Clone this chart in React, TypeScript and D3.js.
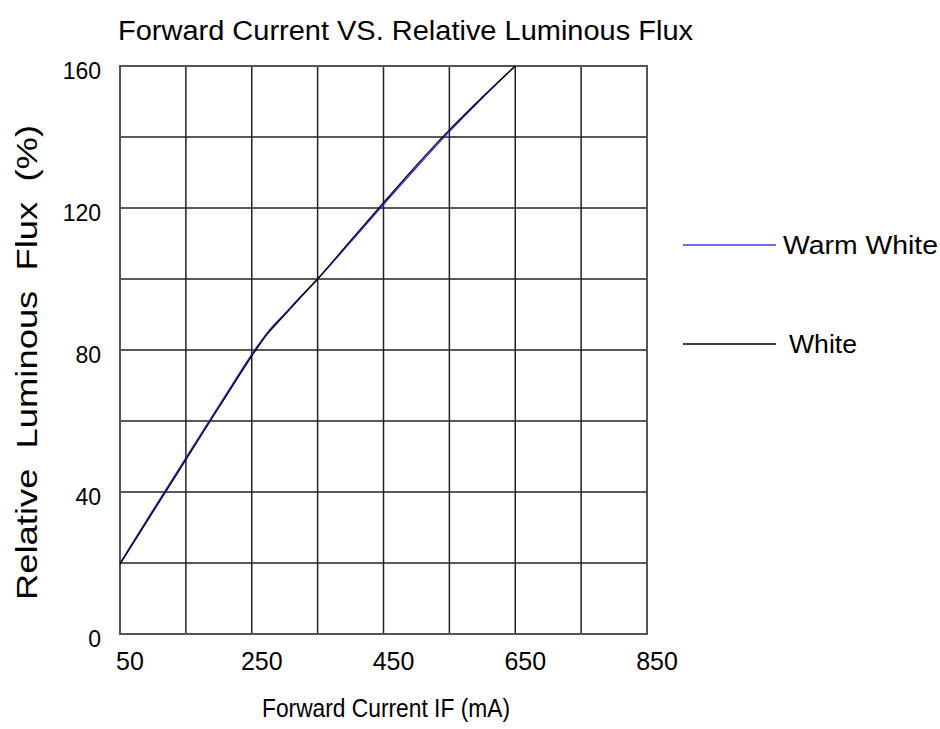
import React, { useRef, useEffect } from 'react';
import * as d3 from 'd3';

const currents = [50, 100, 150, 200, 225, 250, 275, 300, 325, 350, 400, 450, 500, 550, 600, 650];
const warmWhite = [20, 34.9, 49.6, 64.3, 71.6, 78.8, 85.2, 90.2, 95.2, 100, 110.4, 121, 131.4, 141.5, 151, 160];
const white = [19.7, 34.4, 49.1, 63.8, 71.1, 78.3, 84.8, 89.9, 95, 100, 110.8, 121.5, 132, 142, 151.2, 160];
const xTicks = [50, 150, 250, 350, 450, 550, 650, 750, 850];
const xTickLabels = [50, 250, 450, 650, 850];
const yTicks = [0, 20, 40, 60, 80, 100, 120, 140, 160];
const yTickLabels = [0, 40, 80, 120, 160];
const seriesNames = ['Warm White', 'White'];

const App = () => {
  const chartRef = useRef<SVGSVGElement | null>(null);

  useEffect(() => {
    const font = 'Arial, "Liberation Sans", sans-serif';
    const left = 120;
    const right = 647;
    const top = 66;
    const bottom = 634;

    const svg = d3.select(chartRef.current);
    svg.selectAll('*').remove();

    const x = d3.scaleLinear().domain([50, 850]).range([left, right]);
    const y = d3.scaleLinear().domain([0, 160]).range([bottom, top]);

    // grid
    const grid = svg.append('g');
    grid
      .selectAll('line.v')
      .data(xTicks)
      .join('line')
      .attr('x1', (d) => x(d))
      .attr('x2', (d) => x(d))
      .attr('y1', top)
      .attr('y2', bottom)
      .attr('stroke', '#222')
      .attr('stroke-width', 1.5);
    grid
      .selectAll('line.h')
      .data(yTicks)
      .join('line')
      .attr('x1', left)
      .attr('x2', right)
      .attr('y1', (d) => y(d))
      .attr('y2', (d) => y(d))
      .attr('stroke', '#222')
      .attr('stroke-width', 1.5);
    svg
      .append('rect')
      .attr('x', left)
      .attr('y', top)
      .attr('width', right - left)
      .attr('height', bottom - top)
      .attr('fill', 'none')
      .attr('stroke', '#555')
      .attr('stroke-width', 2);

    // tick labels
    svg
      .append('g')
      .selectAll('text')
      .data(xTickLabels)
      .join('text')
      .attr('x', (d) => x(d) + 10)
      .attr('y', 670)
      .attr('text-anchor', 'middle')
      .attr('font-family', font)
      .attr('font-size', 25)
      .attr('fill', '#000')
      .text((d) => d);
    svg
      .append('g')
      .selectAll('text')
      .data(yTickLabels)
      .join('text')
      .attr('x', 101)
      .attr('y', (d) => y(d) + 5)
      .attr('dy', '0.35em')
      .attr('text-anchor', 'end')
      .attr('font-family', font)
      .attr('font-size', 23)
      .attr('fill', '#000')
      .text((d) => d);

    // titles
    svg
      .append('text')
      .attr('x', 118)
      .attr('y', 40)
      .attr('font-family', font)
      .attr('font-size', 27)
      .attr('textLength', 575)
      .attr('lengthAdjust', 'spacingAndGlyphs')
      .text('Forward Current VS. Relative Luminous Flux');
    svg
      .append('text')
      .attr('x', 262)
      .attr('y', 717)
      .attr('font-family', font)
      .attr('font-size', 25)
      .attr('textLength', 248)
      .attr('lengthAdjust', 'spacingAndGlyphs')
      .text('Forward Current IF (mA)');
    svg
      .append('text')
      .attr('transform', 'translate(37, 600) rotate(-90)')
      .attr('font-family', font)
      .attr('font-size', 29)
      .attr('textLength', 475)
      .attr('lengthAdjust', 'spacingAndGlyphs')
      .style('white-space', 'pre')
      .text('Relative  Luminous  Flux  (%)');

    // curves
    const line = d3
      .line<number>()
      .curve(d3.curveMonotoneX)
      .x((d, i) => x(currents[i]))
      .y((d) => y(d));
    const colors = ['#2a2aff', '#000'];
    [warmWhite, white].forEach((s, i) => {
      svg
        .append('path')
        .datum(s)
        .attr('fill', 'none')
        .attr('stroke', colors[i])
        .attr('stroke-width', 1.3)
        .attr('d', line);
    });

    // legend
    const legendY = [245, 344];
    const legendTextX = [783, 789];
    const legendLen = [155, 68];
    seriesNames.forEach((name, i) => {
      svg
        .append('line')
        .attr('x1', 683)
        .attr('x2', 776)
        .attr('y1', legendY[i])
        .attr('y2', legendY[i])
        .attr('stroke', i === 0 ? '#3a3ae6' : '#000')
        .attr('stroke-width', 1.4);
      svg
        .append('text')
        .attr('x', legendTextX[i])
        .attr('y', legendY[i] + 9)
        .attr('font-family', font)
        .attr('font-size', 26)
        .attr('textLength', legendLen[i])
        .attr('lengthAdjust', 'spacingAndGlyphs')
        .text(name);
    });
  }, []);

  return (
    <svg
      ref={chartRef}
      width={940}
      height={729}
      style={{ position: 'absolute', left: 0, top: 0, background: '#fff' }}
    />
  );
};

export default App;
